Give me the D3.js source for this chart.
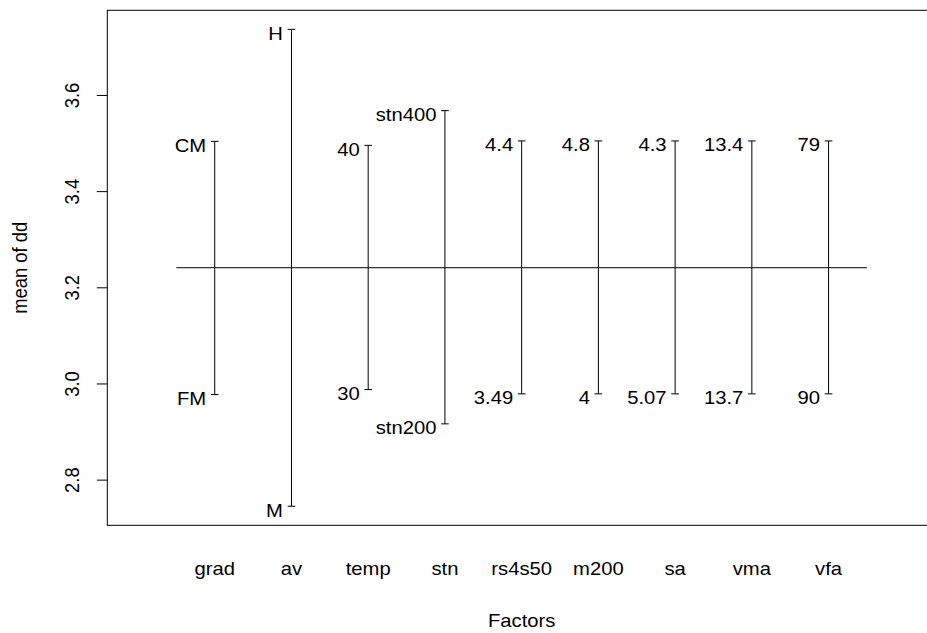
<!DOCTYPE html>
<html>
<head>
<meta charset="utf-8">
<script src="https://cdn.jsdelivr.net/npm/d3@7"></script>
<style>
  html, body { margin: 0; padding: 0; background: #fff; }
  svg text { font-family: "Liberation Sans", Arial, Helvetica, sans-serif; fill: #000; }
</style>
</head>
<body>
<svg id="chart" width="927" height="633"></svg>
<script>
// ---- data ----
const factors = ["grad", "av", "temp", "stn", "rs4s50", "m200", "sa", "vma", "vfa"];
const highLabels = ["CM", "H", "40", "stn400", "4.4", "4.8", "4.3", "13.4", "79"];
const highMeans = [3.5035, 3.7364, 3.4952, 3.5674, 3.5044, 3.5044, 3.5044, 3.5044, 3.5044];
const lowLabels = ["FM", "M", "30", "stn200", "3.49", "4", "5.07", "13.7", "90"];
const lowMeans = [2.9769, 2.7447, 2.9873, 2.9160, 2.9784, 2.9784, 2.9784, 2.9784, 2.9784];
const grandMean = 3.2407;
const yTicks = [2.8, 3.0, 3.2, 3.4, 3.6];
const xTitle = "Factors";
const yTitle = "mean of dd";

// ---- layout ----
const svg = d3.select("#chart");
const plotLeft = 107.3, plotRight = 936, plotTop = 10.3, plotBottom = 525.3;
const fs = 18.4;
const sx = 1.1; // horizontal glyph stretch seen in the reference

// x: R uses xlim c(0, nf+1) with 4% extension
const nf = factors.length;
const xlo = 0, xhi = nf + 1, xpad = (xhi - xlo) * 0.04;
const x = d3.scaleLinear().domain([xlo - xpad, xhi + xpad]).range([plotLeft, plotRight]);

const allVals = highMeans.concat(lowMeans);
const ymin = d3.min(allVals), ymax = d3.max(allVals), ypad = (ymax - ymin) * 0.04;
const y = d3.scaleLinear().domain([ymin - ypad, ymax + ypad]).range([plotBottom, plotTop]);

function hText(sel, px, py) {
  sel.attr("x", 0).attr("y", 0)
     .attr("transform", (d, i) => `translate(${px(d, i)},${py(d, i)}) scale(${sx},1)`)
     .attr("font-size", fs);
}

// box (left, top, bottom visible; right is beyond the window)
svg.append("rect")
  .attr("x", plotLeft).attr("y", plotTop)
  .attr("width", plotRight - plotLeft).attr("height", plotBottom - plotTop)
  .attr("fill", "none").attr("stroke", "#000").attr("stroke-width", 1);

// y axis
const yAxis = d3.axisLeft(y).tickValues(yTicks).tickSize(10.5).tickFormat(d3.format(".1f"));
const yg = svg.append("g").attr("transform", `translate(${plotLeft},0)`).call(yAxis);
yg.select(".domain").remove();
yg.selectAll(".tick line").attr("stroke", "#000");
yg.selectAll(".tick text")
  .attr("font-size", fs)
  .attr("font-family", "Liberation Sans, Arial, sans-serif")
  .attr("text-anchor", "middle")
  .attr("x", 0).attr("y", 0).attr("dy", 0)
  .attr("transform", `translate(-28,0) rotate(-90) scale(1,${sx})`);

// grand mean line
svg.append("line")
  .attr("x1", x(0.5)).attr("x2", x(nf + 0.5))
  .attr("y1", y(grandMean)).attr("y2", y(grandMean))
  .attr("stroke", "#000").attr("stroke-width", 1);

const idx = d3.range(nf);
const g = svg.append("g");
// vertical segments
g.selectAll("line.seg").data(idx).join("line").attr("class", "seg")
  .attr("x1", i => x(i + 1)).attr("x2", i => x(i + 1))
  .attr("y1", i => y(lowMeans[i])).attr("y2", i => y(highMeans[i]))
  .attr("stroke", "#000").attr("stroke-width", 1);

// end ticks
const ends = [];
idx.forEach(i => {
  ends.push({i, v: highMeans[i], lab: highLabels[i]});
  ends.push({i, v: lowMeans[i], lab: lowLabels[i]});
});
g.selectAll("line.end").data(ends).join("line").attr("class", "end")
  .attr("x1", d => x(d.i + 1 - 0.05)).attr("x2", d => x(d.i + 1 + 0.05))
  .attr("y1", d => y(d.v)).attr("y2", d => y(d.v))
  .attr("stroke", "#000").attr("stroke-width", 1);

g.selectAll("text.lab").data(ends).join("text").attr("class", "lab")
  .attr("text-anchor", "end")
  .text(d => d.lab)
  .call(hText, d => x(d.i + 1) - 8.5, d => y(d.v) + 10.4);

// x category labels
svg.append("g").selectAll("text").data(idx).join("text")
  .attr("text-anchor", "middle")
  .text(i => factors[i])
  .call(hText, i => x(i + 1), () => 575.3);

// titles
svg.append("text").datum(0)
  .attr("text-anchor", "middle").text(xTitle)
  .call(hText, () => (plotLeft + plotRight) / 2, () => 627.3);
svg.append("text")
  .attr("transform", `translate(27,${(plotTop + plotBottom) / 2}) rotate(-90) scale(1,${sx})`)
  .attr("text-anchor", "middle").attr("font-size", fs).text(yTitle);
</script>
</body>
</html>
